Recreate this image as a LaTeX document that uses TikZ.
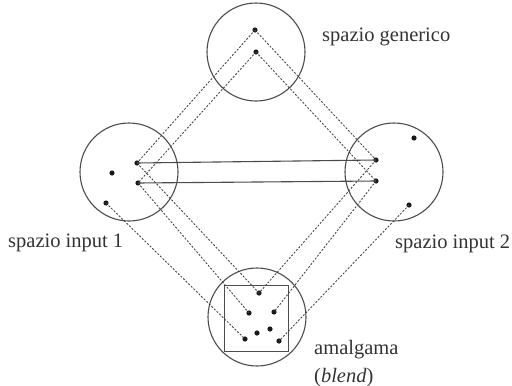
\documentclass[tikz,border=0pt]{standalone}
\usepackage{fontspec}
\setmainfont{Liberation Serif}
\begin{document}
\begin{tikzpicture}[x=1pt,y=-1pt,
  space/.style={draw=black!70,line width=1.1pt},
  pt/.style={circle,fill=black!90,inner sep=0pt,minimum size=5.2pt},
  map/.style={draw=black!75,line width=0.85pt,dash pattern=on 2pt off 1.6pt},
  link/.style={draw=black!70,line width=1.1pt},
  lbl/.style={anchor=base west,inner sep=0pt,text=black!80,font=\fontsize{20.5}{24}\selectfont}]
\useasboundingbox (0,0) rectangle (512,386);
% the four mental spaces
\draw[space] (256,52) circle (49);
\draw[space] (129,172) circle (49);
\draw[space] (394,172) circle (49);
\draw[space] (257,317) circle (49);
\draw[space,line width=1pt] (224,285) rectangle (288,351);
% generic space
\node[pt] (g1) at (255,30) {};
\node[pt] (g2) at (256,52) {};
% input space 1
\node[pt] (a1) at (137,163) {};
\node[pt] (a2) at (138,183) {};
\node[pt] (a3) at (112,173) {};
\node[pt] (a4) at (106,203) {};
% input space 2
\node[pt] (b1) at (376,160) {};
\node[pt] (b2) at (376,181) {};
\node[pt] (b3) at (414,138) {};
\node[pt] (b4) at (409,205) {};
% blend
\node[pt] (c1) at (259,293) {};
\node[pt] (c2) at (249,313) {};
\node[pt] (c3) at (274,312) {};
\node[pt] (c4) at (257,333) {};
\node[pt] (c5) at (270,329) {};
\node[pt] (c6) at (245,339) {};
\node[pt] (c7) at (279,341) {};
% cross-space counterpart links
\draw[link] (a1.center) -- (b1.center);
\draw[link] (a2.center) -- (b2.center);
% projections
\draw[map] (g1.center) -- (a1.center);
\draw[map] (g2.center) -- (a2.center);
\draw[map] (g1.center) -- (b1.center);
\draw[map] (g2.center) -- (b2.center);
\draw[map] (a1.center) -- (c1.center);
\draw[map] (a2.center) -- (c2.center);
\draw[map] (a4.center) -- (c6.center);
\draw[map] (b1.center) -- (c1.center);
\draw[map] (b2.center) -- (c3.center);
\draw[map] (b4.center) -- (c7.center);
% labels
\node[lbl] (tg) at (322,41) {spazio generico};
\node[lbl] (t1) at (8,247) {spazio input 1};
\node[lbl] (t2) at (395,248) {spazio input 2};
\node[lbl] (tb) at (314,354) {amalgama};
\node[lbl] (tb2) at (314,382) {(\textit{blend})};
\end{tikzpicture}
\end{document}
